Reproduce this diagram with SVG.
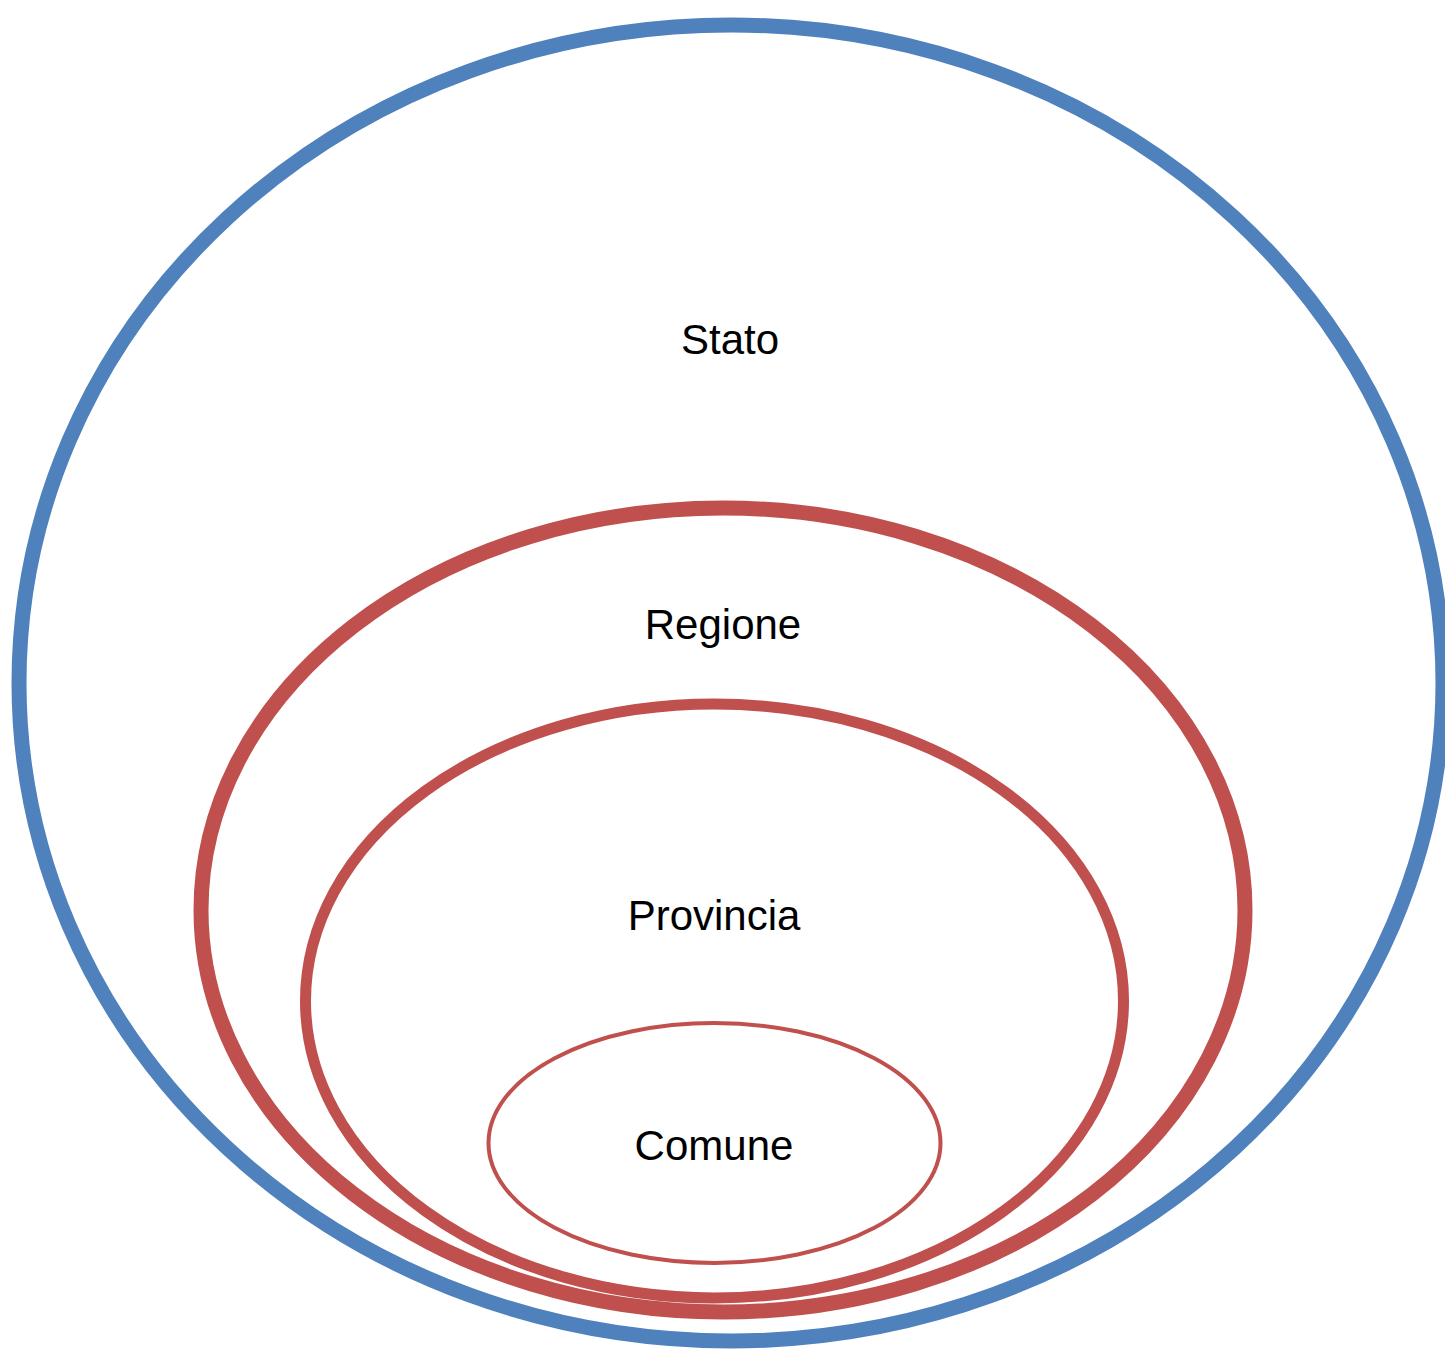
<svg xmlns="http://www.w3.org/2000/svg" width="1445" height="1350" viewBox="0 0 1445 1350">
<style>
.lbl{font-family:"Liberation Sans",Arial,sans-serif;font-size:42px;fill:#000;text-anchor:middle}
.red{fill:none;stroke:#C0504D}
</style>
<rect width="1445" height="1350" fill="#fff"/>
<g id="stato">
<ellipse cx="731" cy="683" rx="712" ry="658" fill="none" stroke="#4F81BD" stroke-width="15"/>
<text class="lbl" x="730" y="354">Stato</text>
</g>
<g id="regione">
<ellipse cx="723" cy="910" rx="522" ry="402" class="red" stroke-width="15"/>
<text class="lbl" x="723" y="639">Regione</text>
</g>
<g id="provincia">
<ellipse cx="714.5" cy="1001" rx="409" ry="297" class="red" stroke-width="11"/>
<text class="lbl" x="714" y="930">Provincia</text>
</g>
<g id="comune">
<ellipse cx="714.5" cy="1143" rx="226" ry="120" class="red" stroke-width="4"/>
<text class="lbl" x="714" y="1160">Comune</text>
</g>
<g id="connectors"/>
</svg>
